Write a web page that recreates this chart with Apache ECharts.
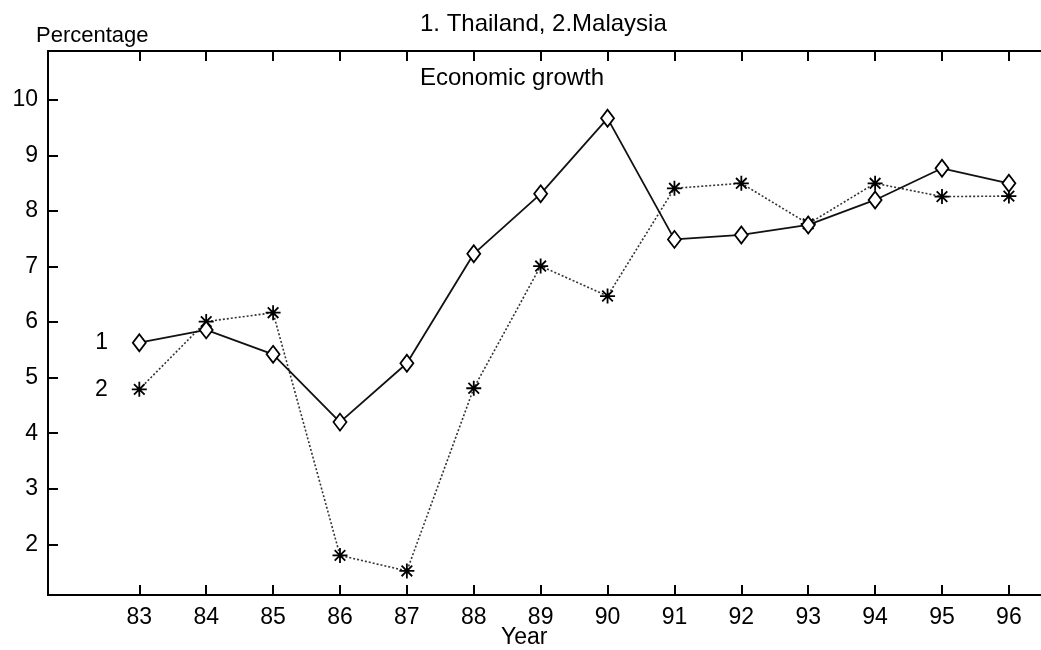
<!DOCTYPE html>
<html>
<head>
<meta charset="utf-8">
<script src="https://cdn.jsdelivr.net/npm/echarts@6/dist/echarts.min.js"></script>
<style>
html,body{margin:0;padding:0;background:#fff;}
#chart{width:1041px;height:650px;}
</style>
</head>
<body>
<div id="chart"></div>
<script>
// ---- data ----
const years = [83, 84, 85, 86, 87, 88, 89, 90, 91, 92, 93, 94, 95, 96];
const thailand = [5.63, 5.86, 5.42, 4.20, 5.26, 7.23, 8.31, 9.67, 7.49, 7.57, 7.75, 8.20, 8.77, 8.50];
const malaysia = [4.79, 6.01, 6.17, 1.80, 1.52, 4.81, 7.01, 6.47, 8.41, 8.50, 7.77, 8.50, 8.26, 8.27];
const yTickValues = [2, 3, 4, 5, 6, 7, 8, 9, 10];
const seriesLabels = ['1', '2'];
const titleText = '1. Thailand, 2.Malaysia';
const yAxisName = 'Percentage';
const xAxisName = 'Year';
const subtitleText = 'Economic growth';

const FONT = '"Liberation Sans", Arial, Helvetica, sans-serif';
const asterisk = 'path://M-1.2,-10L1.2,-10L1.2,10L-1.2,10Z M-10,-1.2L10,-1.2L10,1.2L-10,1.2Z M-6.22,-7.92L7.92,6.22L6.22,7.92L-7.92,-6.22Z M6.22,-7.92L7.92,-6.22L-6.22,7.92L-7.92,6.22Z';

const chart = echarts.init(document.getElementById('chart'), null, {renderer: 'canvas'});

function pairs(vals) { return years.map((y, i) => [y, vals[i]]); }

const axisLineStyle = {color: '#000', width: 2};
const option = {
  backgroundColor: '#fff',
  animation: false,
  grid: {left: 48, top: 51, right: -2, bottom: 55, containLabel: false},
  xAxis: [{
    type: 'value', min: 81.635, max: 96.48, position: 'bottom',
    splitLine: {show: false},
    axisLine: {show: true, lineStyle: axisLineStyle},
    axisTick: {show: true, inside: true, length: 10, lineStyle: {color: '#000', width: 2}, customValues: years},
    axisLabel: {show: true, customValues: years, margin: 11, fontSize: 23, color: '#000', fontFamily: FONT, formatter: v => String(v)}
  }, {
    type: 'value', min: 81.635, max: 96.48, position: 'top',
    splitLine: {show: false},
    axisLine: {show: true, lineStyle: axisLineStyle},
    axisTick: {show: true, inside: true, length: 10, lineStyle: {color: '#000', width: 2}, customValues: years},
    axisLabel: {show: false}
  }],
  yAxis: [{
    type: 'value', min: 1.087, max: 10.882, position: 'left',
    splitLine: {show: false},
    axisLine: {show: true, lineStyle: axisLineStyle},
    axisTick: {show: true, inside: true, length: 10, lineStyle: {color: '#000', width: 2}, customValues: yTickValues},
    axisLabel: {show: true, customValues: yTickValues, margin: 10, fontSize: 23, color: '#000', fontFamily: FONT, formatter: v => String(v)}
  }],
  graphic: [
    {type: 'text', left: 420, top: 12, style: {text: titleText, font: '24px ' + FONT, fill: '#000'}},
    {type: 'text', left: 36, top: 25, style: {text: yAxisName, font: '22px ' + FONT, fill: '#000'}},
    {type: 'text', left: 420, top: 66, style: {text: subtitleText, font: '24px ' + FONT, fill: '#000'}},
    {type: 'text', left: 501, top: 626, style: {text: xAxisName, font: '23px ' + FONT, fill: '#000'}}
  ],
  series: [{
    name: '2', type: 'line', data: pairs(malaysia),
    symbol: asterisk, symbolSize: 15, showSymbol: true,
    itemStyle: {color: '#000'},
    lineStyle: {color: '#333', width: 1.6, type: [2, 2]},
    label: {show: true, position: 'left', distance: 24, fontSize: 23, color: '#000', fontFamily: FONT,
      formatter: p => p.dataIndex === 0 ? seriesLabels[1] : ''},
    z: 2
  }, {
    name: '1', type: 'line', data: pairs(thailand),
    symbol: 'diamond', symbolSize: [13, 17], showSymbol: true,
    itemStyle: {color: '#fff', borderColor: '#000', borderWidth: 1.8},
    lineStyle: {color: '#111', width: 1.8},
    label: {show: true, position: 'left', distance: 24, fontSize: 23, color: '#000', fontFamily: FONT,
      formatter: p => p.dataIndex === 0 ? seriesLabels[0] : ''},
    z: 3
  }]
};
chart.setOption(option);
</script>
</body>
</html>
